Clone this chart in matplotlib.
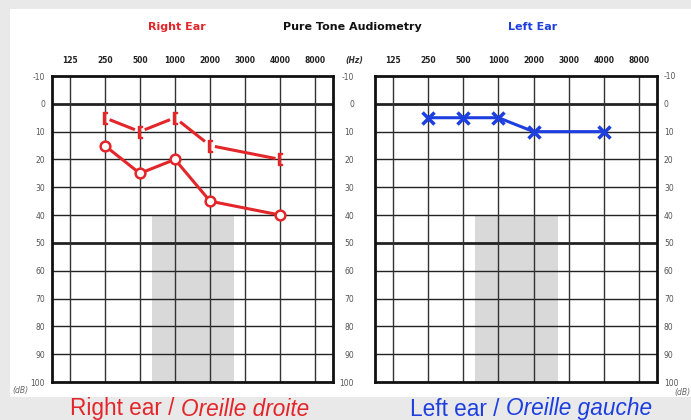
import matplotlib.pyplot as plt

# frequencies (Hz) shown on the audiogram columns
freqs = ["125", "250", "500", "1000", "2000", "3000", "4000", "8000"]
db_levels = [-10, 0, 10, 20, 30, 40, 50, 60, 70, 80, 90, 100]

# right ear: air conduction (O) and bone conduction ([)
right_air_freq = ["250", "500", "1000", "2000", "4000"]
right_air_db = [15, 25, 20, 35, 40]
right_bone_freq = ["250", "500", "1000", "2000", "4000"]
right_bone_db = [5, 10, 5, 15, 20]

# left ear: air conduction (X)
left_air_freq = ["250", "500", "1000", "2000", "4000"]
left_air_db = [5, 5, 5, 10, 10]

RED = "#e3262a"
BLUE = "#1d3fe0"
W, H = 691, 420
narrow = ["Liberation Sans Narrow", "DejaVu Sans Condensed", "DejaVu Sans"]

fig = plt.figure(figsize=(W / 100, H / 100), dpi=100)
fig.patch.set_facecolor("#e9e9e9")

# white panel behind the charts
bg = fig.add_axes([10 / W, (H - 397) / H, 1 - 10 / W, (397 - 9) / H], zorder=-5)
bg.set_facecolor("white")
bg.set_xticks([])
bg.set_yticks([])
for s in bg.spines.values():
    s.set_visible(False)


def px_axes(x0, x1, y0, y1):
    return fig.add_axes([x0 / W, (H - y1) / H, (x1 - x0) / W, (y1 - y0) / H])


def idx(labels):
    return [freqs.index(f) for f in labels]


def set_dbticks(ax, pad):
    ax.set_ylim(100, -10)
    ax.set_yticks(db_levels)
    ax.set_yticklabels([str(d) for d in db_levels], fontsize=5.5, color="#555555",
                       family=narrow)
    ax.tick_params(axis="y", length=0, pad=pad)


def audiogram(ax, pad):
    ax.set_xlim(-0.5, len(freqs) - 0.5)
    ax.axvspan(2.35, 4.68, ymin=0, ymax=60 / 110, color="#d9d9d9", lw=0, zorder=0)
    for d in db_levels[1:-1]:
        ax.axhline(d, color="#222222", lw=2.0 if d in (0, 50) else 1.0, zorder=1)
    for i in range(len(freqs)):
        ax.axvline(i, color="#333333", lw=1.0, zorder=1)
    for s in ax.spines.values():
        s.set_linewidth(2.0)
        s.set_color("#111111")
    ax.xaxis.tick_top()
    ax.set_xticks(range(len(freqs)))
    ax.set_xticklabels(freqs, fontsize=5.5, fontweight="bold", color="#222222",
                       family=narrow)
    ax.tick_params(axis="x", length=0, pad=8)
    set_dbticks(ax, pad)


axR = px_axes(52, 333, 76, 382)
audiogram(axR, 5)
axR.plot(idx(right_air_freq), right_air_db, color=RED, lw=2.2, marker="o", ms=7,
         mfc="white", mec=RED, mew=1.8, zorder=3)
axR.plot(idx(right_bone_freq), right_bone_db, color=RED, ls="none", zorder=3,
         marker="$\\mathbf{[}$", ms=9)
bx = idx(right_bone_freq)
for i in range(len(bx) - 1):
    slope = (right_bone_db[i + 1] - right_bone_db[i]) / (bx[i + 1] - bx[i])
    axR.plot([bx[i] + 0.18, bx[i + 1] - 0.18],
             [right_bone_db[i] + slope * 0.18, right_bone_db[i + 1] - slope * 0.18],
             color=RED, lw=2.2, zorder=3)

axL = px_axes(375, 657, 76, 382)
audiogram(axL, 15)
axL.plot(idx(left_air_freq), left_air_db, color=BLUE, lw=2.2, marker="x", ms=8,
         mew=2.5, zorder=3)
axL2 = axL.twinx()
set_dbticks(axL2, 5)
for s in axL2.spines.values():
    s.set_visible(False)

fig.text(177 / W, 1 - 27 / H, "Right Ear", color=RED, fontsize=8, ha="center",
         va="center", family=narrow, fontweight="bold")
fig.text(352 / W, 1 - 27 / H, "Pure Tone Audiometry", color="#111111", fontsize=8,
         ha="center", va="center", family=narrow, fontweight="bold")
fig.text(533 / W, 1 - 27 / H, "Left Ear", color=BLUE, fontsize=8, ha="center",
         va="center", family=narrow, fontweight="bold")
fig.text(354 / W, 1 - 60 / H, "(Hz)", fontsize=5.5, style="italic", fontweight="bold",
         color="#333333", ha="center", va="center", family=narrow)
fig.text(20 / W, 1 - 391 / H, "(dB)", fontsize=5.5, style="italic", color="#666666",
         ha="center", va="center", family=narrow)
fig.text(682 / W, 1 - 393 / H, "(dB)", fontsize=5.5, style="italic", color="#666666",
         ha="center", va="center", family=narrow)

cap = ["Liberation Sans", "DejaVu Sans"]
fig.text(181 / W, 1 - 409 / H, "Right ear / ", color=RED, fontsize=16.3, family=cap,
         ha="right", va="center")
fig.text(181 / W, 1 - 409 / H, "Oreille droite", color=RED, fontsize=16.3, family=cap,
         style="italic", ha="left", va="center")
fig.text(506 / W, 1 - 409 / H, "Left ear / ", color=BLUE, fontsize=16.3, family=cap,
         ha="right", va="center")
fig.text(506 / W, 1 - 409 / H, "Oreille gauche", color=BLUE, fontsize=16.3, family=cap,
         style="italic", ha="left", va="center")

fig.savefig("out.png", dpi=100, facecolor=fig.get_facecolor())
